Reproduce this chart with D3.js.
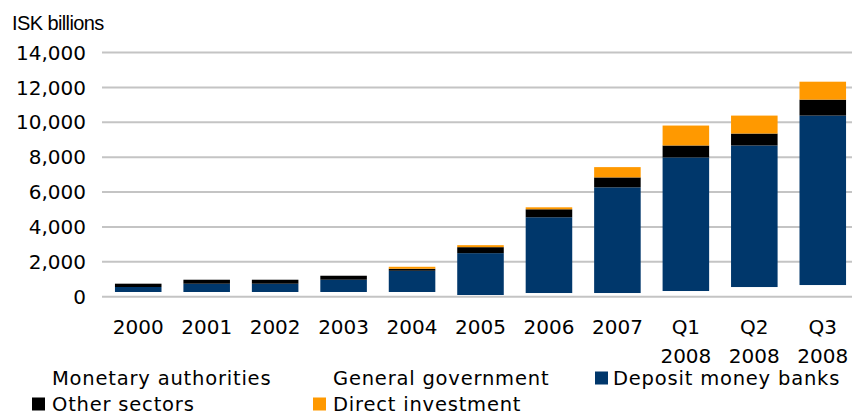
<!DOCTYPE html>
<html><head><meta charset="utf-8">
<script src="https://cdn.jsdelivr.net/npm/d3@7"></script>
<style>
html,body{margin:0;padding:0;background:#fff;}
svg{display:block;}
</style></head>
<body>
<svg id="chart" width="854" height="415"></svg>
<script>
const categories = ["2000","2001","2002","2003","2004","2005","2006","2007","Q1 2008","Q2 2008","Q3 2008"];
const monetaryAuthorities = [150,150,150,150,150,40,100,100,180,350,430];
const generalGovernment   = [120,120,120,120,120,57,111,111,146,204,239];
const depositMoneyBanks   = [286,474,474,703,1217,2400,4343,6057,7657,8114,9714];
const otherSectors        = [190,229,229,229,114,343,457,571,686,686,914];
const directInvestment    = [0,0,0,0,114,114,114,590,1143,1029,1029];
const yTicks = [0,2000,4000,6000,8000,10000,12000,14000];

const seriesNames = ["Monetary authorities","General government","Deposit money banks","Other sectors","Direct investment"];
const seriesValues = [monetaryAuthorities, generalGovernment, depositMoneyBanks, otherSectors, directInvestment];
const colors = ["#ffffff","#ffffff","#00376b","#000000","#ff9900"];

const rows = categories.map((c,i)=>{
  const r = {cat:c};
  seriesNames.forEach((s,j)=>r[s]=seriesValues[j][i]);
  return r;
});
const stacked = d3.stack().keys(seriesNames)(rows);

const svg = d3.select("#chart");
const x = d3.scaleBand().domain(categories).range([104,857]).paddingInner(0.32).paddingOuter(0.16);
const y = d3.scaleLinear().domain([0,14000]).range([296.7,52.5]);

// gridlines
svg.append("g").selectAll("line").data(yTicks.filter(d=>d>0)).join("line")
  .attr("x1",102).attr("x2",852)
  .attr("y1",d=>y(d)).attr("y2",d=>y(d))
  .attr("stroke","#c4c4c4").attr("stroke-width",2);

// bars
svg.append("g").selectAll("g").data(stacked).join("g")
  .attr("fill",(d,i)=>colors[i])
  .selectAll("rect").data(d=>d).join("rect")
  .attr("x",d=>x(d.data.cat))
  .attr("width",x.bandwidth())
  .attr("y",d=>y(d[1]))
  .attr("height",d=>Math.max(0,y(d[0])-y(d[1])));

// baseline
svg.append("line").attr("x1",102).attr("x2",852).attr("y1",y(0)).attr("y2",y(0))
  .attr("stroke","#c4c4c4").attr("stroke-width",2);

// y labels
svg.append("g").selectAll("text").data(yTicks).join("text")
  .attr("x",86).attr("y",d=>y(d)).attr("dy","0.36em")
  .attr("text-anchor","end")
  .attr("font-family","DejaVu Sans").attr("font-size",20).attr("fill","#000")
  .text(d=>d3.format(",")(d));

// x labels
const xl = svg.append("g").selectAll("text").data(categories).join("text")
  .attr("x",d=>x(d)+x.bandwidth()/2).attr("y",333.5)
  .attr("text-anchor","middle")
  .attr("font-family","DejaVu Sans").attr("font-size",20).attr("fill","#000");
xl.each(function(d){
  const parts = d.split(" ");
  const t = d3.select(this);
  parts.forEach((p,i)=>{
    t.append("tspan").attr("x",x(d)+x.bandwidth()/2).attr("dy",i===0?0:29).text(p);
  });
});

// title
svg.append("text").attr("x",12).attr("y",30)
  .attr("font-family","Liberation Sans").attr("font-size",20).attr("letter-spacing","-0.6")
  .attr("fill","#000").text("ISK billions");

// legend
const legendPos = [
  {sx:32, tx:52, y:377.5},
  {sx:313, tx:333, y:377.5},
  {sx:595, tx:613, y:377.5},
  {sx:32, tx:52, y:403.5},
  {sx:313, tx:333, y:403.5}
];
const lg = svg.append("g").selectAll("g").data(seriesNames).join("g");
lg.append("rect")
  .attr("x",(d,i)=>legendPos[i].sx).attr("y",(d,i)=>legendPos[i].y-6)
  .attr("width",13).attr("height",13).attr("fill",(d,i)=>colors[i]);
lg.append("text")
  .attr("x",(d,i)=>legendPos[i].tx).attr("y",(d,i)=>legendPos[i].y).attr("dy","0.36em")
  .attr("font-family","DejaVu Sans").attr("font-size",19.5).attr("letter-spacing","0.8")
  .attr("fill","#000").text(d=>d);
</script>
</body></html>
